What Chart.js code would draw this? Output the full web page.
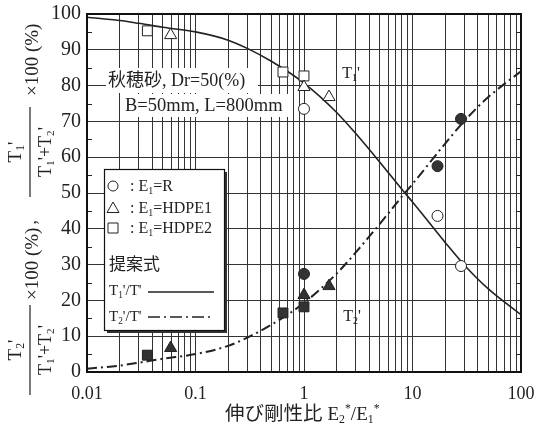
<!DOCTYPE html>
<html>
<head>
<meta charset="utf-8">
<script src="https://cdn.jsdelivr.net/npm/chart.js@4.4.0/dist/chart.umd.min.js"></script>
<style>
  html, body { margin: 0; padding: 0; background: #fff; }
  #wrap { width: 538px; height: 429px; position: relative; }
</style>
</head>
<body>
<div id="wrap"><canvas id="c"></canvas></div>
<script>
// Share of tension T1'/T' and T2'/T' against stiffness ratio E2*/E1* (log axis)

// proposed curves
const curveX  = [0.01, 0.02, 0.03, 0.05, 0.1, 0.2, 0.3, 0.5, 1, 2, 3, 5, 8.5, 10, 20, 30, 50, 100];
const curveT1 = [99.1, 98.2, 97.4, 96.3, 95.0, 92.7, 90.4, 86.8, 80.7, 72.5, 66.6, 58.6, 50.0, 47.5, 36.2, 29.9, 23.2, 16.0];
const curveT2 = [0.9, 1.8, 2.6, 3.7, 5.0, 7.3, 9.6, 13.2, 19.3, 27.5, 33.4, 41.4, 50.0, 52.5, 63.8, 70.1, 76.8, 84.0];

// measured points: open = T1', filled = T2'
const rX   = [1, 17, 28];
const rT1  = [73.5, 43.6, 29.6];
const rT2  = [27.4, 57.5, 70.7];
const h1X  = [0.059, 1, 1.7];
const h1T1 = [94.1, 79.6, 76.8];
const h1T2 = [6.7, 21.5, 24.0];
const h2X  = [0.036, 0.64, 1];
const h2T1 = [95.3, 83.8, 82.7];
const h2T2 = [4.7, 16.5, 18.2];

const xDecades = [0.01, 0.1, 1, 10, 100];
const yMinorTicks = [5, 15, 25, 35, 45, 55, 65, 75, 85, 95];

const SERIF = "'Liberation Serif', 'Times New Roman', serif";
const CJK = "'Noto Sans CJK JP', sans-serif";
const INK = '#222';

// every 1..9 multiple inside the decades, for the log grid
const xGridTicks = [];
xDecades.forEach(function (d, i) {
    if (i === xDecades.length - 1) { xGridTicks.push(d); return; }
    for (let m = 1; m <= 9; m++) xGridTicks.push(+(m * d).toPrecision(3));
});

function pts(xs, ys) { return xs.map(function (x, i) { return { x: x, y: ys[i] }; }); }

// text with sub/superscripts: parts = [[text, kind]], kind n|sub|sup|cjk
function drawRich(ctx, parts, x, y, size, align) {
    let total = 0;
    const segs = parts.map(function (p) {
        const k = p[1] || 'n';
        const fs = (k === 'sub' || k === 'sup') ? size * 0.62 : size;
        const fam = k === 'cjk' ? CJK : SERIF;
        ctx.font = fs + 'px ' + fam;
        const w = ctx.measureText(p[0]).width;
        total += w;
        return { t: p[0], k: k, fs: fs, fam: fam, w: w };
    });
    let cx = align === 'center' ? x - total / 2 : (align === 'right' ? x - total : x);
    ctx.textAlign = 'left';
    ctx.textBaseline = 'alphabetic';
    segs.forEach(function (s) {
        ctx.font = s.fs + 'px ' + s.fam;
        let dy = 0;
        if (s.k === 'sub') dy = size * 0.18;
        if (s.k === 'sup') dy = -size * 0.4;
        ctx.fillText(s.t, cx, y + dy);
        cx += s.w;
    });
    return total;
}

function marker(ctx, kind, x, y, filled) {
    ctx.save();
    ctx.fillStyle = filled ? '#333' : '#fff';
    ctx.strokeStyle = INK;
    ctx.lineWidth = 1;
    ctx.beginPath();
    if (kind === 'circle') ctx.arc(x, y, 5, 0, Math.PI * 2);
    if (kind === 'triangle') { ctx.moveTo(x, y - 6); ctx.lineTo(x + 6, y + 4.5); ctx.lineTo(x - 6, y + 4.5); ctx.closePath(); }
    if (kind === 'rect') ctx.rect(x - 5, y - 5, 10, 10);
    ctx.fill();
    ctx.stroke();
    ctx.restore();
}

const T1p = [['T'], ['1', 'sub'], ["'"]];
const T2p = [['T'], ['2', 'sub'], ["'"]];
const denom = [['T'], ['1', 'sub'], ["'+T"], ['2', 'sub'], ["'"]];

const overlay = {
    id: 'overlay',
    afterDatasetsDraw: function (chart) {
        const ctx = chart.ctx;
        const a = chart.chartArea;
        ctx.save();

        // minor ticks at the fives, inside left and right edges
        const ys = chart.scales.y;
        ctx.strokeStyle = INK;
        ctx.lineWidth = 1;
        yMinorTicks.forEach(function (v) {
            const py = Math.round(ys.getPixelForValue(v)) + 0.5;
            ctx.beginPath();
            ctx.moveTo(a.left, py); ctx.lineTo(a.left + 5, py);
            ctx.moveTo(a.right - 5, py); ctx.lineTo(a.right, py);
            ctx.stroke();
        });

        // plot frame
        ctx.lineWidth = 2;
        ctx.strokeStyle = '#111';
        ctx.strokeRect(a.left, a.top, a.right - a.left, a.bottom - a.top);

        // condition text box
        ctx.fillStyle = '#fff';
        ctx.fillRect(106, 68, 152, 25);
        ctx.fillRect(123, 94, 168, 23);
        ctx.fillStyle = INK;
        drawRich(ctx, [['秋穂砂', 'cjk'], [', Dr=50(%)']], 108, 86, 18, 'left');
        drawRich(ctx, [['B=50mm, L=800mm']], 125, 111, 18.5, 'left');

        // curve labels
        drawRich(ctx, T1p, 351, 78, 16, 'center');
        drawRich(ctx, T2p, 352, 321, 16, 'center');

        // legend box with drop shadow
        ctx.fillStyle = '#333';
        ctx.fillRect(107, 172, 120, 161);
        ctx.fillStyle = '#fff';
        ctx.fillRect(104, 169, 120, 161);
        ctx.lineWidth = 1.2;
        ctx.strokeStyle = '#111';
        ctx.strokeRect(104.5, 169.5, 120, 161);
        ctx.fillStyle = INK;
        marker(ctx, 'circle', 113, 186, false);
        marker(ctx, 'triangle', 113, 208, false);
        marker(ctx, 'rect', 113, 228, false);
        ctx.fillStyle = INK;
        drawRich(ctx, [[': E'], ['1', 'sub'], ['=R']], 130, 191, 16, 'left');
        drawRich(ctx, [[': E'], ['1', 'sub'], ['=HDPE1']], 130, 213, 16, 'left');
        drawRich(ctx, [[': E'], ['1', 'sub'], ['=HDPE2']], 130, 233, 16, 'left');
        drawRich(ctx, [['提案式', 'cjk']], 109, 270, 17, 'left');
        drawRich(ctx, [['T'], ['1', 'sub'], ["'/T'"]], 109, 295, 15, 'left');
        drawRich(ctx, [['T'], ['2', 'sub'], ["'/T'"]], 109, 321, 15, 'left');
        ctx.strokeStyle = INK;
        ctx.lineWidth = 1.3;
        ctx.beginPath(); ctx.moveTo(148, 292); ctx.lineTo(214, 292); ctx.stroke();
        ctx.setLineDash([12, 4, 2, 4]);
        ctx.beginPath(); ctx.moveTo(148, 317); ctx.lineTo(214, 317); ctx.stroke();
        ctx.setLineDash([]);
        ctx.restore();
    },
    afterDraw: function (chart) {
        const ctx = chart.ctx;
        ctx.save();
        ctx.fillStyle = INK;
        ctx.strokeStyle = INK;
        ctx.lineWidth = 1.2;

        // y title: two stacked fractions written bottom-to-top
        function fraction(cx, cy, num, pct, comma) {
            ctx.save();
            ctx.translate(cx, cy);
            ctx.rotate(-Math.PI / 2);
            ctx.beginPath(); ctx.moveTo(-45, 0); ctx.lineTo(45, 0); ctx.stroke();
            drawRich(ctx, num, 0, -9, 19, 'center');
            drawRich(ctx, denom, 0, 21, 18, 'center');
            const w = drawRich(ctx, [['×100 (%)']], pct, 8, 19, 'left');
            if (comma) drawRich(ctx, [[',']], pct + w + 3, 6, 18, 'left');
            ctx.restore();
        }
        fraction(30, 152, T1p, 56, false);
        fraction(30, 350, T2p, 50, true);

        // x title
        const w = drawRich(ctx, [['伸び剛性比', 'cjk']], 225, 420, 19.5, 'left');
        drawRich(ctx, [['E'], ['2', 'sub'], ['*', 'sup'], ['/E'], ['1', 'sub'], ['*', 'sup']], 225 + w + 5, 420, 19, 'left');
        ctx.restore();
    }
};

function pointSet(xs, ys, style, filled, r) {
    return {
        data: pts(xs, ys),
        showLine: false,
        pointStyle: style,
        pointRadius: r,
        backgroundColor: filled ? '#333' : '#fff',
        borderColor: INK,
        borderWidth: 1
    };
}

new Chart(document.getElementById('c'), {
    type: 'scatter',
    data: {
        datasets: [
            pointSet(rX, rT1, 'circle', false, 5.5),
            pointSet(rX, rT2, 'circle', true, 5.5),
            pointSet(h1X, h1T1, 'triangle', false, 7),
            pointSet(h1X, h1T2, 'triangle', true, 7),
            pointSet(h2X, h2T1, 'rect', false, 7),
            pointSet(h2X, h2T2, 'rect', true, 7),
            {
                data: pts(curveX, curveT1),
                showLine: true, pointRadius: 0,
                borderColor: INK, borderWidth: 1.6,
                cubicInterpolationMode: 'monotone'
            },
            {
                data: pts(curveX, curveT2),
                showLine: true, pointRadius: 0,
                borderColor: INK, borderWidth: 2,
                borderDash: [10, 4, 2, 4],
                cubicInterpolationMode: 'monotone'
            }
        ]
    },
    options: {
        responsive: true,
        maintainAspectRatio: false,
        animation: false,
        layout: { padding: { left: 0, top: 14, right: 17, bottom: 0 } },
        plugins: { legend: { display: false }, tooltip: { enabled: false } },
        scales: {
            x: {
                type: 'logarithmic',
                min: 0.01, max: 100,
                afterBuildTicks: function (s) { s.ticks = xGridTicks.map(function (v) { return { value: v }; }); },
                afterFit: function (s) { s.height = 57; s.paddingLeft = 0; s.paddingRight = 0; },
                grid: { color: '#333', lineWidth: 1, drawTicks: false },
                border: { display: false },
                ticks: {
                    autoSkip: false, maxRotation: 0, padding: 11,
                    color: INK, font: { family: SERIF, size: 18 },
                    callback: function (v) {
                        const d = xDecades.find(function (k) { return Math.abs(k - v) / k < 1e-6; });
                        return d === undefined ? '' : String(d);
                    }
                }
            },
            y: {
                min: 0, max: 100,
                afterFit: function (s) { s.width = 87; s.paddingTop = 0; s.paddingBottom = 0; },
                grid: { color: '#333', lineWidth: 1, drawTicks: false },
                border: { display: false },
                ticks: { stepSize: 10, padding: 6, color: INK, font: { family: SERIF, size: 20 } }
            }
        }
    },
    plugins: [overlay]
});
</script>
</body>
</html>
